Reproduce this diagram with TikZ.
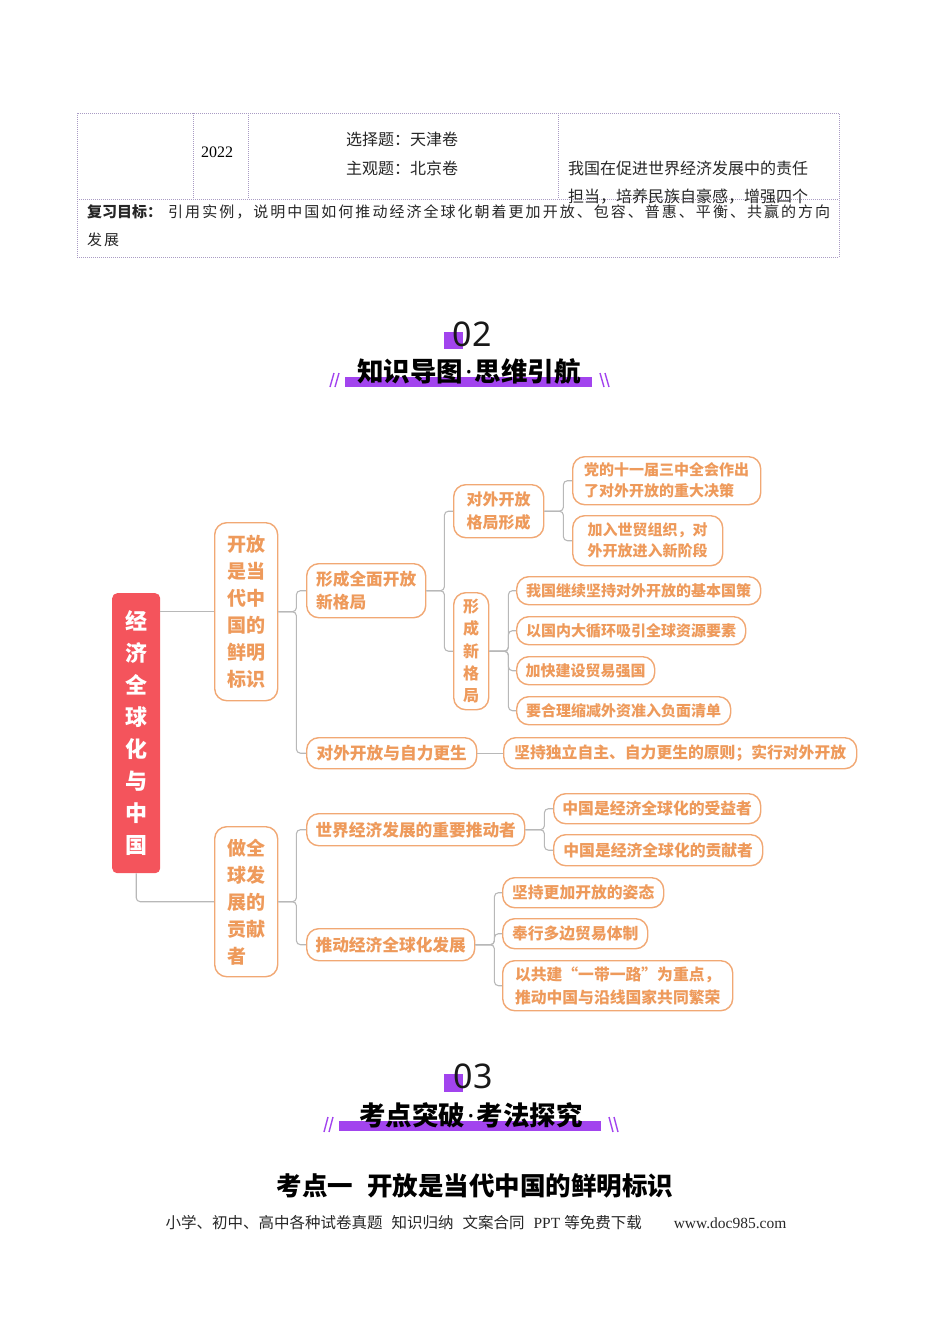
\documentclass[tikz,border=0pt]{standalone}
\usepackage{fontspec}
\setmainfont{Liberation Serif}
\newfontfamily\cjk{Noto Sans CJK SC}
\newfontfamily\cjkls{Noto Sans CJK SC}[LetterSpace=13.5]
\newfontfamily\numf{Noto Sans}
\definecolor{orng}{HTML}{EE9A5B}
\definecolor{orngb}{HTML}{F1A874}
\definecolor{rootred}{HTML}{F4545C}
\definecolor{purp}{HTML}{A244EE}
\definecolor{tline}{HTML}{A99BC4}
\definecolor{connc}{HTML}{B8B8B8}
\tikzset{
  box/.style={draw=orngb, line width=1.4pt, rounded corners=12pt, fill=white,
    text=orng, inner sep=0pt, anchor=north west},
  f17/.style={font=\cjk\bfseries\fontsize{16.7}{23}\selectfont},
  f16/.style={font=\cjk\bfseries\fontsize{15.8}{23}\selectfont},
  f15/.style={font=\cjk\bfseries\fontsize{15}{21}\selectfont},
  conn/.style={draw=connc, line width=1.1pt, rounded corners=4pt},
  tl/.style={draw=tline, line width=0.7pt, dash pattern=on 1pt off 1pt},
  tt/.style={font=\cjk\fontsize{16}{20}\selectfont, anchor=west, inner sep=0pt, text=black!85},
  slash/.style={draw=purp, line width=1.4pt},
  htitle/.style={font=\cjk\bfseries\fontsize{26.5}{30}\selectfont, inner sep=0pt},
}
\newcommand{\mdot}{\hspace{2pt}{\numf\bfseries ·}\hspace{2pt}}
\begin{document}
\begin{tikzpicture}[x=1pt,y=-1pt]
\useasboundingbox (0,0) rectangle (950,1344);
% ---------- table ----------
\draw[tl] (77,113) rectangle (839,257);
\draw[tl] (193,113) -- (193,199);
\draw[tl] (248,113) -- (248,199);
\draw[tl] (558,113) -- (558,199);
\draw[tl] (77,199) -- (839,199);
\node[font=\fontsize{16}{20}\selectfont, inner sep=0pt] (yr) at (217,152) {2022};
\node[tt] (t1) at (346,139) {选择题：天津卷};
\node[tt] (t2) at (346,168) {主观题：北京卷};
\node[tt] (t3) at (568,168) {我国在促进世界经济发展中的责任};
\node[tt] (t4) at (568,197) {担当，培养民族自豪感，增强四个};
\node[anchor=west, inner sep=0pt, font=\fontsize{15}{20}\selectfont, text=black!85] (t5) at (87,212)
  {{\cjk\bfseries 复习目标：}\hspace{6pt}{\cjkls 引用实例，说明中国如何推动经济全球化朝着更加开放、包容、普惠、平衡、共赢的方向}};
\node[anchor=west, inner sep=0pt, font=\cjkls\fontsize{15}{20}\selectfont, text=black!85] (t6) at (87,240) {发展};
% ---------- header 02 ----------
\fill[purp] (444,332) rectangle (463,349);
\node[font=\numf\fontsize{34}{40}\selectfont, text=black!90, inner sep=0pt] (h02) at (472,334) {02};
\fill[purp] (345,377) rectangle (592,387);
\node[htitle] (h02t) at (469,371) {知识导图\mdot 思维引航};
\draw[slash] (330,387) -- (334,373);
\draw[slash] (335,387) -- (339,373);
\draw[slash] (600,373) -- (604,387);
\draw[slash] (605,373) -- (609,387);
% ---------- mind map ----------
\node[fill=rootred, rounded corners=5pt, anchor=north west, minimum width=48pt, minimum height=280pt, inner sep=0pt,
  text=white, align=center, font=\cjk\bfseries\fontsize{22}{32}\selectfont] (root) at (112,593)
  {经\\济\\全\\球\\化\\与\\中\\国};
\node[box, minimum width=63pt, minimum height=178pt, align=left, font=\cjk\bfseries\fontsize{19}{27}\selectfont] (n1) at (214,522)
  {开放\\是当\\代中\\国的\\鲜明\\标识};
\node[box, minimum width=63pt, minimum height=150pt, align=left, font=\cjk\bfseries\fontsize{19}{27}\selectfont] (n2) at (214,826)
  {做全\\球发\\展的\\贡献\\者};
\node[box, f17, minimum width=119pt, minimum height=54pt, align=left] (a) at (306,563) {形成全面开放\\新格局};
\node[box, f17, minimum width=170pt, minimum height=31pt] (b) at (306,737) {对外开放与自力更生};
\node[box, font=\cjk\bfseries\fontsize{16}{23}\selectfont, minimum width=90pt, minimum height=53pt, align=center] (a1) at (453,484) {对外开放\\格局形成};
\node[box, font=\cjk\bfseries\fontsize{16}{22.3}\selectfont, minimum width=35pt, minimum height=117pt, align=center] (a2) at (453,592) {形\\成\\新\\格\\局};
\node[box, f15, minimum width=188pt, minimum height=48pt, align=left] (a11) at (572,456) {党的十一届三中全会作出\\了对外开放的重大决策};
\node[box, f15, minimum width=150pt, minimum height=50pt, align=left] (a12) at (572,515) {加入世贸组织，对\\外开放进入新阶段};
\node[box, f15, minimum width=244pt, minimum height=28pt] (a21) at (516,576) {我国继续坚持对外开放的基本国策};
\node[box, f15, minimum width=229pt, minimum height=28pt] (a22) at (516,616) {以国内大循环吸引全球资源要素};
\node[box, f15, minimum width=138pt, minimum height=28pt] (a23) at (516,656) {加快建设贸易强国};
\node[box, f15, minimum width=214pt, minimum height=28pt] (a24) at (516,696) {要合理缩减外资准入负面清单};
\node[box, f16, minimum width=353pt, minimum height=31pt] (b1) at (503,737) {坚持独立自主、自力更生的原则；实行对外开放};
\node[box, f17, minimum width=218pt, minimum height=32pt] (c) at (306,813) {世界经济发展的重要推动者};
\node[box, f17, minimum width=168pt, minimum height=32pt] (d) at (306,928) {推动经济全球化发展};
\node[box, f16, minimum width=207pt, minimum height=30pt] (c1) at (553,793) {中国是经济全球化的受益者};
\node[box, f16, minimum width=209pt, minimum height=31pt] (c2) at (553,834) {中国是经济全球化的贡献者};
\node[box, f16, minimum width=161pt, minimum height=30pt] (d1) at (502,877) {坚持更加开放的姿态};
\node[box, f16, minimum width=145pt, minimum height=30pt] (d2) at (502,918) {奉行多边贸易体制};
\node[box, f16, minimum width=230pt, minimum height=50pt, align=left] (d3) at (502,960) {以共建“一带一路”为重点，\\推动中国与沿线国家共同繁荣};
% connectors
\draw[conn] (root.east |- n1.west) -- (n1.west);
\draw[conn] (root.south) |- (n2.west);
\draw[conn] (n1.east) -- ++(18,0) |- (a.west);
\draw[conn] (n1.east) -- ++(18,0) |- (b.west);
\draw[conn] (a.east) -- ++(18,0) |- (a1.west);
\draw[conn] (a.east) -- ++(18,0) |- (a2.west);
\draw[conn] (a1.east) -- ++(19,0) |- (a11.west);
\draw[conn] (a1.east) -- ++(19,0) |- (a12.west);
\draw[conn] (a2.east) -- ++(19,0) |- (a21.west);
\draw[conn] (a2.east) -- ++(19,0) |- (a22.west);
\draw[conn] (a2.east) -- ++(19,0) |- (a23.west);
\draw[conn] (a2.east) -- ++(19,0) |- (a24.west);
\draw[conn] (b.east) -- (b1.west);
\draw[conn] (n2.east) -- ++(18,0) |- (c.west);
\draw[conn] (n2.east) -- ++(18,0) |- (d.west);
\draw[conn] (c.east) -- ++(19,0) |- (c1.west);
\draw[conn] (c.east) -- ++(19,0) |- (c2.west);
\draw[conn] (d.east) -- ++(19,0) |- (d1.west);
\draw[conn] (d.east) -- ++(19,0) |- (d2.west);
\draw[conn] (d.east) -- ++(19,0) |- (d3.west);
% ---------- header 03 ----------
\fill[purp] (444,1074) rectangle (463,1092);
\node[font=\numf\fontsize{34}{40}\selectfont, text=black!90, inner sep=0pt] (h03) at (473,1076) {03};
\fill[purp] (339,1121) rectangle (601,1131);
\node[htitle] (h03t) at (471,1115) {考点突破\mdot 考法探究};
\draw[slash] (324,1132) -- (328,1117);
\draw[slash] (329,1132) -- (333,1117);
\draw[slash] (609,1117) -- (613,1132);
\draw[slash] (614,1117) -- (618,1132);
\node[font=\cjk\bfseries\fontsize{25.5}{30}\selectfont, inner sep=0pt] (kd) at (475,1186) {考点一\hspace{14pt}开放是当代中国的鲜明标识};
\node[font=\fontsize{15.5}{20}\selectfont, inner sep=0pt, text=black!85] (foot) at (476,1223)
  {{\cjk 小学、初中、高中各种试卷真题\hspace{9pt}知识归纳\hspace{9pt}文案合同\hspace{9pt}}PPT\hspace{4pt}{\cjk 等免费下载}\hspace{32pt}www.doc985.com};
\end{tikzpicture}
\end{document}
